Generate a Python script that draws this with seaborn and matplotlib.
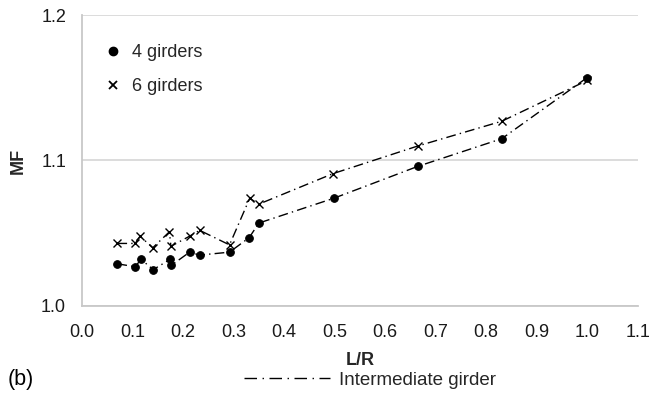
import matplotlib
matplotlib.use("Agg")
import matplotlib.pyplot as plt
from matplotlib.lines import Line2D
import seaborn as sns
import pandas as pd

lr_4 = [0.070, 0.105, 0.117, 0.141, 0.174, 0.177, 0.213, 0.233, 0.292, 0.331, 0.350, 0.498, 0.665, 0.831, 1.000]
mf_4 = [1.029, 1.027, 1.032, 1.025, 1.032, 1.028, 1.037, 1.035, 1.037, 1.047, 1.057, 1.074, 1.096, 1.115, 1.157]

lr_6 = [0.070, 0.105, 0.115, 0.140, 0.173, 0.176, 0.213, 0.233, 0.292, 0.332, 0.350, 0.497, 0.665, 0.831, 1.000]
mf_6 = [1.043, 1.043, 1.048, 1.040, 1.051, 1.041, 1.048, 1.052, 1.042, 1.074, 1.070, 1.091, 1.110, 1.127, 1.155]

x_ticks = [0.0, 0.1, 0.2, 0.3, 0.4, 0.5, 0.6, 0.7, 0.8, 0.9, 1.0, 1.1]
y_ticks = [1.0, 1.1, 1.2]

sns.set_theme(style="white")
plt.rcParams['font.family'] = ['Liberation Sans', 'DejaVu Sans']

fig = plt.figure(figsize=(6.61, 3.98), dpi=100)
ax = fig.add_axes([82/661, 1 - 306/398, (637.7 - 82)/661, (306 - 15)/398])

dash = (0, (7, 3, 1, 3))
df4 = pd.DataFrame({"L/R": lr_4, "MF": mf_4})
df6 = pd.DataFrame({"L/R": lr_6, "MF": mf_6})
sns.lineplot(data=df4, x="L/R", y="MF", ax=ax, sort=False, color="black",
             linestyle=dash, linewidth=1.0, marker="o", markersize=5.5,
             markeredgecolor="black", markerfacecolor="black")
sns.lineplot(data=df6, x="L/R", y="MF", ax=ax, sort=False, color="black",
             linestyle=dash, linewidth=1.0, marker="x", markersize=6,
             markeredgewidth=1.0, markeredgecolor="black")

ax.set_xlim(0, 1.1)
ax.set_ylim(1.0, 1.2)
ax.set_xticks(x_ticks)
ax.set_xticklabels([f"{t:.1f}" for t in x_ticks])
ax.set_yticks(y_ticks)
ax.set_yticklabels([f"{t:.1f}" for t in y_ticks])
ax.tick_params(axis='both', labelsize=13, colors='#1a1a1a', length=0)
ax.tick_params(axis='x', pad=13)
ax.tick_params(axis='y', pad=11.5)
ax.yaxis.grid(True, color='#d9d9d9', linewidth=1.3)
ax.xaxis.grid(False)
for s in ['top', 'right']:
    ax.spines[s].set_visible(False)
for s in ['left', 'bottom']:
    ax.spines[s].set_color('#c8c8c8')
    ax.spines[s].set_linewidth(1.3)

ax.set_xlabel("L/R", fontsize=13, fontweight='bold', labelpad=8)
ax.set_ylabel("MF", fontsize=13, fontweight='bold', labelpad=10)

h4 = Line2D([], [], linestyle='none', marker='o', markersize=6, color='black')
h6 = Line2D([], [], linestyle='none', marker='x', markersize=6, markeredgewidth=1.3, color='black')
ax.legend([h4, h6], ["4 girders", "6 girders"], loc='upper left',
          bbox_to_anchor=(0.0, 0.975), frameon=False, fontsize=13,
          handlelength=1.0, handletextpad=0.55, labelspacing=0.95, borderaxespad=0.8)

hl = Line2D([], [], color='black', linewidth=1.0, linestyle=(0, (9, 4, 1, 4)))
fig.legend([hl], ["Intermediate girder"], loc='center', bbox_to_anchor=(0.56, 1 - 380/398),
           frameon=False, fontsize=13.5, handlelength=4.6, handletextpad=0.5)

fig.text(8/661, 1 - 380/398, "(b)", fontsize=15.5, va='center', ha='left', color='black')

fig.savefig("out.png", dpi=100)
